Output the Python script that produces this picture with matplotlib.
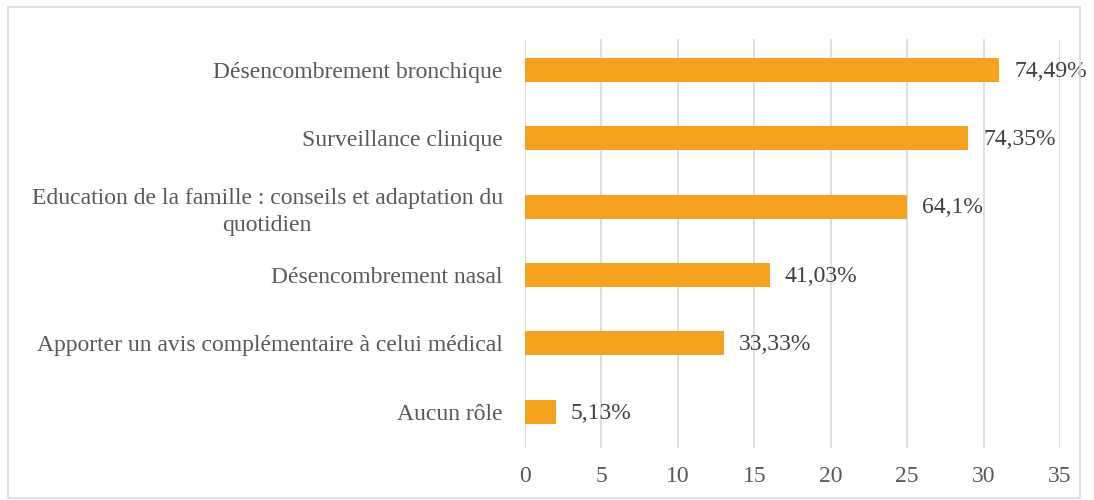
import matplotlib.pyplot as plt
from matplotlib.patches import Rectangle

categories = ['Désencombrement bronchique', 'Surveillance clinique',
              'Education de la famille : conseils et adaptation du\nquotidien',
              'Désencombrement nasal', 'Apporter un avis complémentaire à celui médical',
              'Aucun rôle']
counts = [31, 29, 25, 16, 13, 2]
pct_labels = ['74,49%', '74,35%', '64,1%', '41,03%', '33,33%', '5,13%']

plt.rcParams['font.family'] = ['Liberation Serif', 'DejaVu Serif']

fig = plt.figure(figsize=(10.94, 5), dpi=100)
fig.patches.append(Rectangle((8/1094, 2/500), 1072/1094, 491/500, transform=fig.transFigure,
                             fill=False, edgecolor='#D9D9D9', linewidth=1.2))
ax = fig.add_axes([525/1094, 52/500, 535/1094, 409/500])

y = list(range(len(categories)))
ax.barh(y, counts, height=0.35, color='#F5A31F', zorder=3)
for yi, c, lab in zip(y, counts, pct_labels):
    ax.text(c + 1.0, yi + 0.02, lab, va='center', ha='left', fontsize=17, color='#404040', zorder=4)

ax.set_xlim(0, 35)
ax.set_ylim(5.53, -0.45)
ax.set_xticks(range(0, 36, 5))
ax.set_yticks(y)
ax.set_yticklabels(categories, fontsize=17, color='#595959')
ax.tick_params(axis='x', labelsize=17, labelcolor='#595959', length=0, pad=13)
ax.tick_params(axis='y', length=0, pad=16)
for lbl in ax.get_yticklabels():
    lbl.set_horizontalalignment('right')
    lbl.set_multialignment('center')
    lbl.set_linespacing(1.4)
ax.grid(axis='x', color='#D9D9D9', linewidth=1.2, zorder=0)
for s in ax.spines.values():
    s.set_visible(False)

fig.savefig('out.png', dpi=100)
